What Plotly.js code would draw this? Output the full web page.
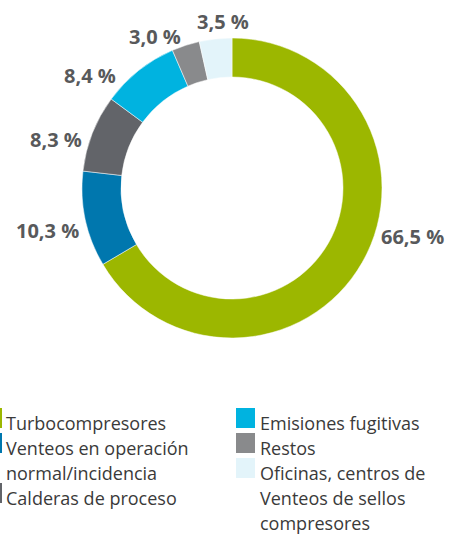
<!DOCTYPE html>
<html><head><meta charset="utf-8">
<script src="https://cdn.plot.ly/plotly-3.0.1.min.js"></script>
<style>html,body{margin:0;padding:0;background:#fff}#chart{width:450px;height:537px}</style>
</head><body><div id="chart"></div>
<script>
const categories = ["Turbocompresores", "Venteos en operación<br>normal/incidencia", "Calderas de proceso", "Emisiones fugitivas", "Restos", "Oficinas, centros de<br>Venteos de sellos<br>compresores"];
const values = [66.5, 10.3, 8.3, 8.4, 3.0, 3.5];
const valueLabels = ["66,5 %", "10,3 %", "8,3 %", "8,4 %", "3,0 %", "3,5 %"];
const colors = ["#9cb700", "#0077ae", "#626469", "#00b3e0", "#898a8c", "#e3f4fa"];

const W = 450, H = 537;
const px = x => x / W, py = y => 1 - y / H;

// label anchor positions (pixels) for value labels
const labelPos = [[412, 236], [47, 230], [56, 139], [90, 75], [155, 37], [223, 21]];
// legend layout: [column, first row]
const legendRows = [[0, 0], [0, 1], [0, 3], [1, 0], [1, 1], [1, 2]];

const annotations = valueLabels.map((t, i) => ({
  text: "<b>" + t + "</b>", x: px(labelPos[i][0]), y: py(labelPos[i][1]),
  xref: "paper", yref: "paper", showarrow: false, xanchor: "center", yanchor: "middle",
  font: {family: "Open Sans, sans-serif", size: 20, color: "#58595b"}
}));
const shapes = [];
categories.forEach((c, i) => {
  const col = legendRows[i][0], row = legendRows[i][1];
  const top = 410 + row * 25;
  const textX = col === 0 ? 5 : 259;
  c.split("<br>").forEach((line, k) => {
    annotations.push({
      text: line, x: px(textX), y: py(423 + (row + k) * 25), xref: "paper", yref: "paper", showarrow: false,
      xanchor: "left", yanchor: "middle", align: "left", borderpad: 0,
      font: {family: "Open Sans, sans-serif", size: 18, color: "#3a3a3a"}
    });
  });
  const x0 = col === 0 ? -17 : 236, x1 = col === 0 ? 2 : 255;
  shapes.push({type: "rect", xref: "paper", yref: "paper",
    x0: px(x0), x1: px(x1), y0: py(top - 2), y1: py(top + 18),
    fillcolor: colors[i], line: {width: 0}});
});

const data = [{
  type: "pie", values: values, labels: categories, hole: 0.74, sort: false,
  direction: "clockwise", rotation: 0,
  marker: {colors: colors, line: {color: "#ffffff", width: 0.5}},
  textinfo: "none", hoverinfo: "none",
  domain: {x: [px(82), px(382)], y: [py(338), py(38)]}
}];
const layout = {
  width: W, height: H, margin: {l: 0, r: 0, t: 0, b: 0},
  paper_bgcolor: "#fff", showlegend: false, annotations: annotations, shapes: shapes
};
Plotly.newPlot("chart", data, layout, {staticPlot: true});
</script></body></html>
